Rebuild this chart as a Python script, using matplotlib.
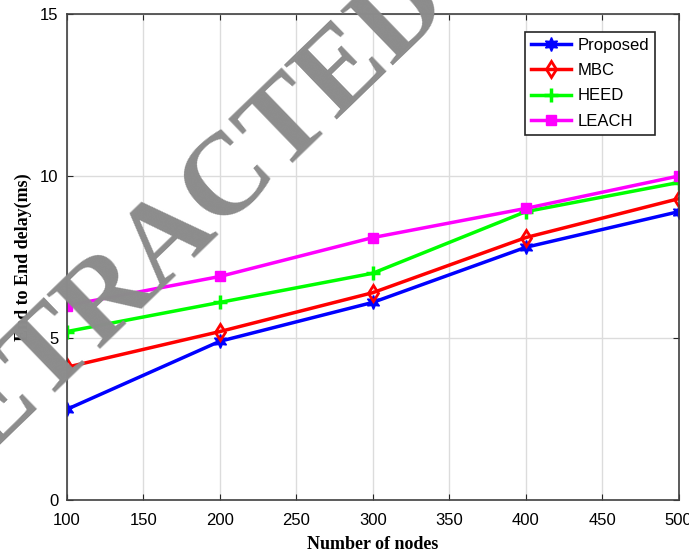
import matplotlib.pyplot as plt

nodes = [100, 200, 300, 400, 500]
proposed = [2.8, 4.9, 6.1, 7.8, 8.9]
mbc = [4.1, 5.2, 6.4, 8.1, 9.3]
heed = [5.2, 6.1, 7.0, 8.9, 9.8]
leach = [6.0, 6.9, 8.1, 9.0, 10.0]

x_ticks = [100, 150, 200, 250, 300, 350, 400, 450, 500]
y_ticks = [0, 5, 10, 15]


def plot_delay(ax):
    ax.plot(nodes, proposed, color='#0000ff', lw=2.5, marker=(6, 1, 0),
            ms=10, label='Proposed')
    ax.plot(nodes, mbc, color='#ff0000', lw=2.5, marker='d', ms=8,
            mfc='none', mew=2, label='MBC')
    ax.plot(nodes, heed, color='#00ff00', lw=2.5, marker='+', ms=10,
            mew=2.5, label='HEED')
    ax.plot(nodes, leach, color='#ff00ff', lw=2.5, marker='s', ms=7,
            label='LEACH')

    ax.set_xlim(100, 500)
    ax.set_ylim(0, 15)
    ax.set_xticks(x_ticks)
    ax.set_yticks(y_ticks)
    ax.grid(True, color='#dcdcdc', lw=1)
    ax.tick_params(direction='in', top=True, right=True, labelsize=12,
                   colors='#262626', length=4)
    ax.tick_params(axis='x', pad=9)
    ax.tick_params(axis='y', pad=6)
    for s in ax.spines.values():
        s.set_color('#404040')
        s.set_linewidth(1.2)
    for lab in ax.get_xticklabels() + ax.get_yticklabels():
        lab.set_fontfamily('Liberation Sans')
        lab.set_color('black')

    ax.set_xlabel('Number of nodes', fontsize=13, fontweight='bold',
                  fontfamily='Liberation Serif', labelpad=6)
    ax.set_ylabel('End to End delay(ms)', fontsize=13, fontweight='bold',
                  fontfamily='Liberation Serif', labelpad=6)

    leg = ax.legend(loc='upper right', bbox_to_anchor=(0.961, 0.963),
                    borderaxespad=0,
                    prop={'family': 'Liberation Sans', 'size': 12},
                    fancybox=False, edgecolor='#262626', framealpha=1,
                    handlelength=2.4, borderpad=0.35, labelspacing=0.62,
                    handletextpad=0.4)
    leg.get_frame().set_linewidth(1.2)


fig = plt.figure(figsize=(6.89, 5.6), dpi=100)
ax = fig.add_axes([0.097, 0.107, 0.888, 0.868])
plot_delay(ax)

# watermark
fig.text(0.245, 0.57, 'RETRACTED', fontsize=84, fontweight='bold',
         fontfamily='Liberation Serif', color='#8c8c8c', rotation=44,
         ha='center', va='center', rotation_mode='anchor', zorder=10)

fig.savefig('out.png', dpi=100)
